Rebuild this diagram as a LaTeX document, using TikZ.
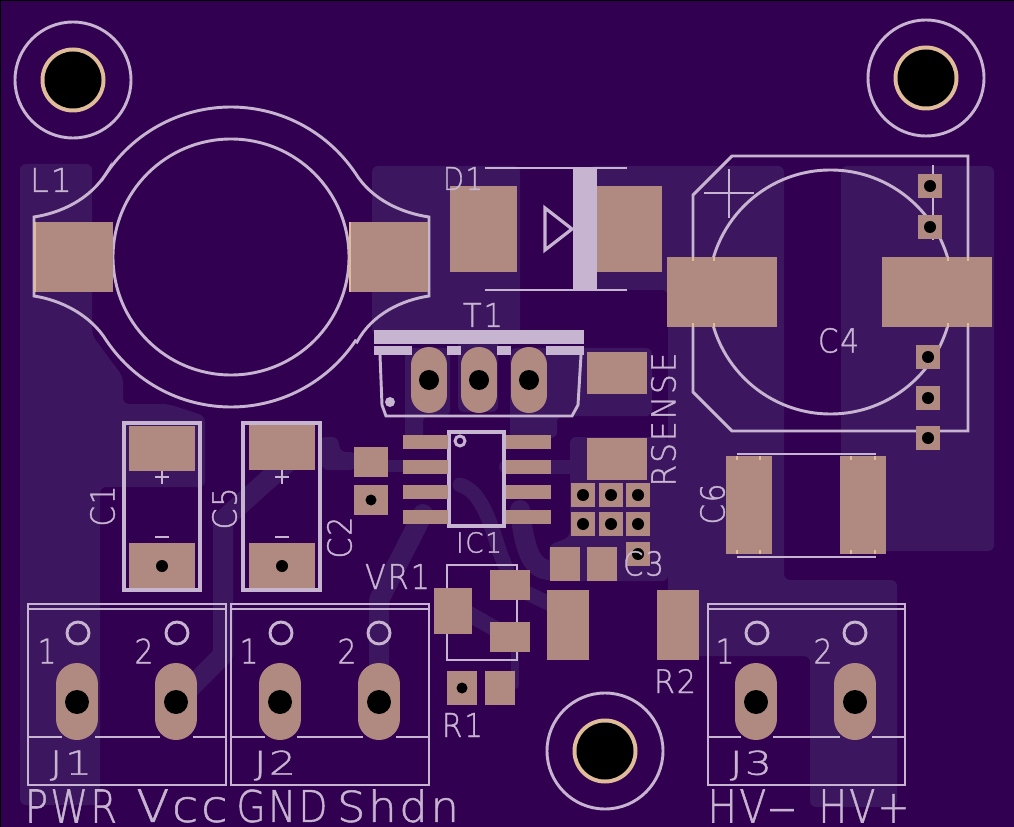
\documentclass[tikz,border=0pt]{standalone}
\usepackage{fontspec}
\usepackage{graphicx}
\newfontfamily\silkfont[LetterSpace=6,FakeBold=1.2]{DejaVu Sans ExtraLight}
\definecolor{boardc}{HTML}{320051}
\definecolor{pourc}{HTML}{3D1660}
\definecolor{silkc}{HTML}{C6B4D0}
\definecolor{padc}{HTML}{B08A80}
\definecolor{ringc}{HTML}{E0BC98}
\newcommand{\silkt}[3]{\resizebox*{\dimexpr#1pt*3/4\relax}{\dimexpr#2pt*3/4\relax}{\fontsize{30}{30}\silkfont #3}}
\tikzset{
  pour/.style={fill=pourc,rounded corners=4.5pt},
  trace/.style={draw=pourc,line cap=round,line join=round},
  silk/.style={draw=silkc,line width=2.2pt,line join=miter},
  silkthin/.style={draw=silkc,line width=1.6pt},
  silkfill/.style={fill=silkc},
  pad/.style={fill=padc},
  oblong/.style={draw=padc,line cap=round},
  hole/.style={fill=black},
  tick/.style={draw=ringc,line width=1.6pt},
  lab/.style={text=silkc,inner sep=0pt,outer sep=0pt,anchor=center}
}
\begin{document}
\begin{tikzpicture}[x=0.75pt,y=-0.75pt]
\useasboundingbox (0,0) rectangle (1014,827);
\fill[black] (0,0) rectangle (1014,827);
\fill[boardc] (1,1) rectangle (1014,827);

% copper pours
\fill[pour] (20,164) -- (92,164) -- (92,335) -- (123,377) -- (123,404) -- (168,404) -- (205,416) -- (205,487) -- (100,487) -- (100,805) -- (20,805) -- cycle;
\fill[pour] (372,166) -- (520,166) -- (520,335) -- (372,335) -- cycle;
\fill[pour] (458,330) -- (498,330) -- (498,412) -- (458,412) -- cycle;
\fill[pour] (405,348) -- (450,348) -- (450,416) -- (423,416) -- (423,440) -- (405,440) -- cycle;
\fill[pour] (510,348) -- (652,348) -- (652,416) -- (557,416) -- (557,438) -- (510,438) -- cycle;
\fill[pour] (589,166) -- (784,166) -- (784,580) -- (897,580) -- (897,807) -- (810,807) -- (810,656) -- (657,656) -- (657,594) -- (668,594) -- (668,290) -- (589,290) -- cycle;
\fill[pour] (841,166) -- (994,166) -- (994,551) -- (841,551) -- cycle;
\fill[pour] (570,437) -- (668,437) -- (668,581) -- (549,581) -- (549,545) -- (570,537) -- cycle;
\fill[pour] (320,437) -- (338,437) -- (340,452) -- (356,452) -- (356,470) -- (322,470) -- cycle;

% traces
\draw[trace,line width=10.5pt] (506,467) -- (575,467);
\draw[trace,line width=15pt] (176,702) -- (223,655) -- (223,520) -- (290,460);
\draw[trace,line width=15pt] (379,702) -- (379,600) -- (423,514);
\draw[trace,line width=9pt] (371,466) -- (430,466);
\draw[trace,line width=11pt] (460,485) .. controls (480,490) and (490,520) .. (500,553) -- (507,570);
\draw[trace,line width=15pt] (520,510) .. controls (524,545) and (530,570) .. (550,570);
\draw[trace,line width=12pt] (453,605) -- (510,637);
\draw[trace,line width=11pt] (510,585) -- (567,612);
\draw[trace,line width=6pt] (515,650) -- (515,685);

% mounting rings
\draw[silk] (73,80) circle (58);
\draw[silk] (926,78) circle (58);
\draw[silk] (605,751) circle (58);

% L1
\draw[silk] (231,257) circle (118);
\draw[silk] (34,217) .. controls (60,213) and (90,200) .. (107,172)
  -- plot[domain=146:34,samples=60] ({231+150*cos(\x)},{257-150*sin(\x)})
  .. controls (372,200) and (402,213) .. (429,217) -- (429,296)
  .. controls (402,300) and (372,314) .. (357,342)
  -- plot[domain=-34:-146,samples=60] ({231+150*cos(\x)},{257-150*sin(\x)})
  .. controls (90,314) and (60,300) .. (34,296) -- cycle;

% D1
\draw[silkthin] (485,168) -- (627,168);
\draw[silkthin] (485,290) -- (627,290);
\fill[silkfill] (573,168) rectangle (597,290);
\draw[silk,line width=2.4pt] (545,208) -- (545,250) -- (572,229) -- cycle;

% C4
\draw[silk] (693,195) -- (732,156) -- (968,156) -- (968,431) -- (732,431) -- (693,392) -- cycle;
\draw[silk] (830.5,292) circle (122);
\draw[silk] (704,193) -- (754,193);
\draw[silk] (729,169) -- (729,218);
\draw[silk] (933,165) -- (933,240);

% T1
\fill[silkfill] (374,330) rectangle (584,344);
\fill[silkfill] (374,346) rectangle (412,355);
\fill[silkfill] (447,346) rectangle (461,355);
\fill[silkfill] (497,346) rectangle (511,355);
\fill[silkfill] (546,346) rectangle (584,355);
\draw[silk] (380,355) -- (382,405) -- (386,416) -- (572,416) -- (578,405) -- (581,355);
\fill[silkfill] (390,402) circle (5);

% IC1
\draw[silk,line width=2.4pt] (449,432) rectangle (504,526);
\draw[silk] (460,441) circle (5);

% C1 C5
\draw[silk,line width=2.4pt] (124,423) rectangle (200,590);
\draw[silk,line width=2.4pt] (243,423) rectangle (320,590);
\draw[silk] (155,477) -- (169,477);
\draw[silk] (162,470) -- (162,484);
\draw[silk] (155,537) -- (169,537);
\draw[silk] (275,477) -- (289,477);
\draw[silk] (282,470) -- (282,484);
\draw[silk] (275,537) -- (289,537);

% C6
\draw[silk] (737,454) -- (876,454);
\draw[silk] (737,557) -- (876,557);

% VR1
\draw[silk] (447,565) rectangle (517,660);

% connectors
\draw[silk] (28,604) rectangle (226,785);
\draw[silk] (28,609) -- (226,609);
\draw[silk] (28,737) -- (62,737);
\draw[silk] (95,737) -- (160,737);
\draw[silk] (193,737) -- (226,737);
\draw[silk] (78,633) circle (11);
\draw[silk] (177,633) circle (11);

\draw[silk] (231,604) rectangle (429,785);
\draw[silk] (231,609) -- (429,609);
\draw[silk] (231,737) -- (265,737);
\draw[silk] (297,737) -- (363,737);
\draw[silk] (396,737) -- (429,737);
\draw[silk] (281,633) circle (11);
\draw[silk] (379,633) circle (11);

\draw[silk] (708,604) rectangle (905,785);
\draw[silk] (708,609) -- (905,609);
\draw[silk] (708,737) -- (741,737);
\draw[silk] (773,737) -- (840,737);
\draw[silk] (872,737) -- (905,737);
\draw[silk] (757,633) circle (11);
\draw[silk] (855,633) circle (11);

% pads
\fill[pad] (35,222) rectangle (113,292);
\fill[pad] (350,222) rectangle (428,292);
\fill[pad] (450,186) rectangle (517,272);
\fill[pad] (597,186) rectangle (662,272);
\fill[pad] (667,257) rectangle (777,327);
\fill[pad] (882,257) rectangle (992,327);
\fill[pad] (918,174) rectangle (942,198);
\fill[pad] (918,215) rectangle (942,239);
\fill[pad] (916,345) rectangle (940,369);
\fill[pad] (916,386) rectangle (940,410);
\fill[pad] (916,426) rectangle (940,450);
\fill[pad] (587,352) rectangle (647,394);
\fill[pad] (587,438) rectangle (647,480);
\foreach \px in {571,599,626} {
  \fill[pad] (\px,483) rectangle ++(24,24);
  \fill[pad] (\px,512) rectangle ++(24,24);
}
\fill[pad] (626,542) rectangle (650,566);
\fill[pad] (550,547) rectangle (580,581);
\fill[pad] (587,547) rectangle (617,581);
\fill[pad] (547,590) rectangle (589,660);
\fill[pad] (657,590) rectangle (699,660);
\fill[pad] (726,456) rectangle (772,554);
\fill[pad] (840,456) rectangle (886,554);
\fill[pad] (434,588) rectangle (472,634);
\fill[pad] (490,570) rectangle (530,600);
\fill[pad] (490,622) rectangle (530,652);
\fill[pad] (447,671) rectangle (477,705);
\fill[pad] (485,671) rectangle (515,705);
\fill[pad] (354,447) rectangle (388,477);
\fill[pad] (354,485) rectangle (388,515);
\fill[pad] (129,426) rectangle (195,471);
\fill[pad] (129,543) rectangle (195,588);
\fill[pad] (249,425) rectangle (315,470);
\fill[pad] (249,543) rectangle (315,588);
\foreach \py in {435,460,485,510} {
  \fill[pad] (403,\py) rectangle ++(45,14);
  \fill[pad] (506,\py) rectangle ++(45,14);
}
\foreach \px in {429,479,529} {
  \draw[oblong,line width=27pt] (\px,365) -- (\px,395);
}
\foreach \px in {77,176,280,379,756,855} {
  \draw[oblong,line width=31.5pt] (\px,684) -- (\px,719);
}

% silk showing through the pad edges
\foreach \tx in {737,760,851,875} {
  \draw[tick] (\tx,456) -- (\tx,460);
  \draw[tick] (\tx,550) -- (\tx,554);
}
\foreach \tx in {693,714,948,968} {
  \draw[tick] (\tx,257) -- (\tx,261);
  \draw[tick] (\tx,323) -- (\tx,327);
}
\draw[tick,line width=1pt] (35,222) -- (35,292);
\draw[tick,line width=1pt] (350,222) -- (350,292);

% holes
\fill[ringc] (73,80) circle (32.5);
\fill[ringc] (926,78) circle (32.5);
\fill[ringc] (605,751) circle (32.5);
\fill[hole] (73,80) circle (28.5);
\fill[hole] (926,78) circle (28.5);
\fill[hole] (605,751) circle (28.5);
\foreach \hx/\hy in {930/186,930/227,928/357,928/398,928/438,583/495,611/495,638/495,583/524,611/524,638/524,638/554} {
  \fill[hole] (\hx,\hy) circle (6);
}
\fill[hole] (462,688) circle (5.5);
\fill[hole] (371,500) circle (5.5);
\fill[hole] (162,566) circle (6);
\fill[hole] (282,566) circle (6);
\foreach \hx in {429,479,529} { \fill[hole] (\hx,380) circle (10); }
\foreach \hx in {77,176,280,379,756,855} { \fill[hole] (\hx,702) circle (12); }

% labels
\node[lab] (tL1) at (51,180) {\silkt{42}{24}{L1}};
\node[lab] (tD1) at (463,178.5) {\silkt{40}{23}{D1}};
\node[lab] (tT1) at (483,315) {\silkt{40}{24}{T1}};
\node[lab] (tC4) at (838.5,340.5) {\silkt{41}{25}{C4}};
\node[lab,rotate=90] (tRS) at (663.5,419.5) {\silkt{134}{25}{RSENSE}};
\node[lab,rotate=90] (tC1) at (102.5,506) {\silkt{41}{25}{C1}};
\node[lab,rotate=90] (tC5) at (224.5,508.5) {\silkt{42}{25}{C5}};
\node[lab,rotate=90] (tC2) at (339.5,537.5) {\silkt{42}{25}{C2}};
\node[lab,rotate=90] (tC6) at (712.5,504) {\silkt{41}{25}{C6}};
\node[lab] (tC3) at (643.5,563.5) {\silkt{41}{25}{C3}};
\node[lab] (tIC) at (479,542.5) {\silkt{46}{21}{IC1}};
\node[lab] (tVR) at (397.5,576.5) {\silkt{65}{25}{VR1}};
\node[lab] (tR1) at (462.5,725) {\silkt{41}{24}{R1}};
\node[lab] (tR2) at (675,681) {\silkt{42}{24}{R2}};
\node[lab] (tJ1) at (71,765.5) {\silkt{42}{30}{J1}};
\node[lab] (tJ2) at (275,765.5) {\silkt{42}{30}{J2}};
\node[lab] (tJ3) at (751,765.5) {\silkt{42}{30}{J3}};
\node[lab] (ta1) at (47,651) {\silkt{19}{25}{1}};
\node[lab] (ta2) at (144,651) {\silkt{19}{25}{2}};
\node[lab] (tb1) at (249,651) {\silkt{19}{25}{1}};
\node[lab] (tb2) at (347,651) {\silkt{19}{25}{2}};
\node[lab] (tc1) at (725,651) {\silkt{19}{25}{1}};
\node[lab] (tc2) at (823,651) {\silkt{19}{25}{2}};
\node[lab] (tPWR) at (71,806) {\silkt{92}{33}{PWR}};
\node[lab] (tVcc) at (182,806) {\silkt{91}{33}{Vcc}};
\node[lab] (tGND) at (282,806) {\silkt{91}{33}{GND}};
\node[lab] (tShd) at (398,806) {\silkt{122}{33}{Shdn}};
\node[lab] (tHVm) at (752.5,806) {\silkt{90}{33}{HV\scalebox{2.2}[1]{-}}};
\node[lab] (tHVp) at (864,806) {\silkt{91}{33}{HV+}};
\end{tikzpicture}
\end{document}
